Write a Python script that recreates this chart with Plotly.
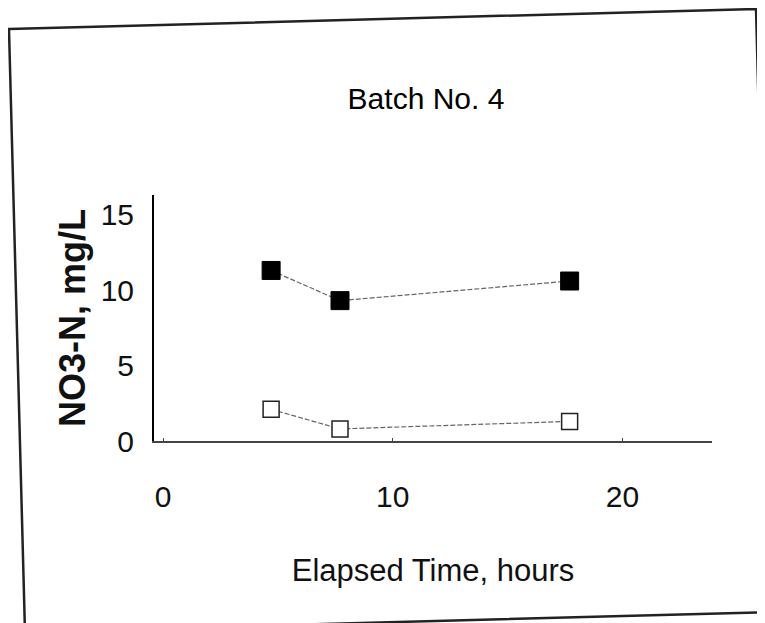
import plotly.graph_objects as go

# Data
elapsed_hours = [4.7, 7.7, 17.7]
no3_filled = [11.3, 9.3, 10.6]
no3_open = [2.1, 0.8, 1.3]

x_ticks = [0, 10, 20]
y_ticks = [0, 5, 10, 15]

FONT = "Liberation Sans, Arial, sans-serif"
OFF = 8  # page body margin of the html page
W, H = 765 - OFF, 623 - OFF
L, T = 154 - OFF, 195 - OFF
R = W - (712 - OFF)
B = H - (441 - OFF)

fig = go.Figure()

fig.add_trace(go.Scatter(
    x=elapsed_hours, y=no3_filled, mode="lines+markers",
    line=dict(color="#666666", width=1.2, dash="5px,2px"),
    marker=dict(symbol="square", size=18, color="black",
                line=dict(color="black", width=1)),
    showlegend=False, cliponaxis=False,
))
fig.add_trace(go.Scatter(
    x=elapsed_hours, y=no3_open, mode="lines+markers",
    line=dict(color="#666666", width=1.2, dash="5px,2px"),
    marker=dict(symbol="square", size=16, color="white",
                line=dict(color="#222222", width=1.5)),
    showlegend=False, cliponaxis=False,
))

# outer (slightly skewed, as scanned) frame, window pixel -> paper coords
def px(xp):
    return (xp - OFF - L) / (W - L - R)

def py(yp):
    return (H - B - (yp - OFF)) / (H - T - B)

frame = [(9, 29), (756, 9), (772, 612), (25, 632)]
path = "M " + " L ".join(f"{px(a):.4f},{py(b):.4f}" for a, b in frame) + " Z"

fig.update_layout(
    template="none",
    width=W, height=H,
    margin=dict(l=L, r=R, t=T, b=B, autoexpand=False),
    paper_bgcolor="white", plot_bgcolor="white",
    font=dict(family=FONT, color="#111111"),
    title=dict(text="Batch No. 4", x=((426 - OFF) / W), xanchor="center",
               y=1 - (98 - OFF) / H, yanchor="middle",
               font=dict(family=FONT, size=30, color="#000000")),
    shapes=[dict(type="path", path=path, xref="paper", yref="paper",
                 line=dict(color="#222222", width=2.5), layer="above")],
)

fig.update_xaxes(
    automargin=False,
    range=[-0.4, 23.9], tickvals=x_ticks, ticktext=[str(v) for v in x_ticks],
    showgrid=False, zeroline=False, showline=True, linecolor="#444444", linewidth=1.5,
    ticks="inside", ticklen=3, tickcolor="#444444",
    tickfont=dict(family=FONT, size=30, color="#111111"), ticklabelstandoff=28,
    title=dict(text="Elapsed Time, hours", font=dict(family=FONT, size=31, color="#111111"),
               standoff=48),
    fixedrange=True,
)
fig.update_yaxes(
    automargin=False,
    range=[0, 16.3], tickvals=y_ticks, ticktext=[str(v) for v in y_ticks],
    showgrid=False, zeroline=False, showline=True, linecolor="black", linewidth=2,
    ticks="", tickfont=dict(family=FONT, size=30, color="#111111"), ticklabelstandoff=12,
    title=dict(text="<b>NO3-N, mg/L</b>", font=dict(family=FONT, size=36, color="#111111"),
               standoff=4),
    fixedrange=True,
)

fig.write_html("out.html")
